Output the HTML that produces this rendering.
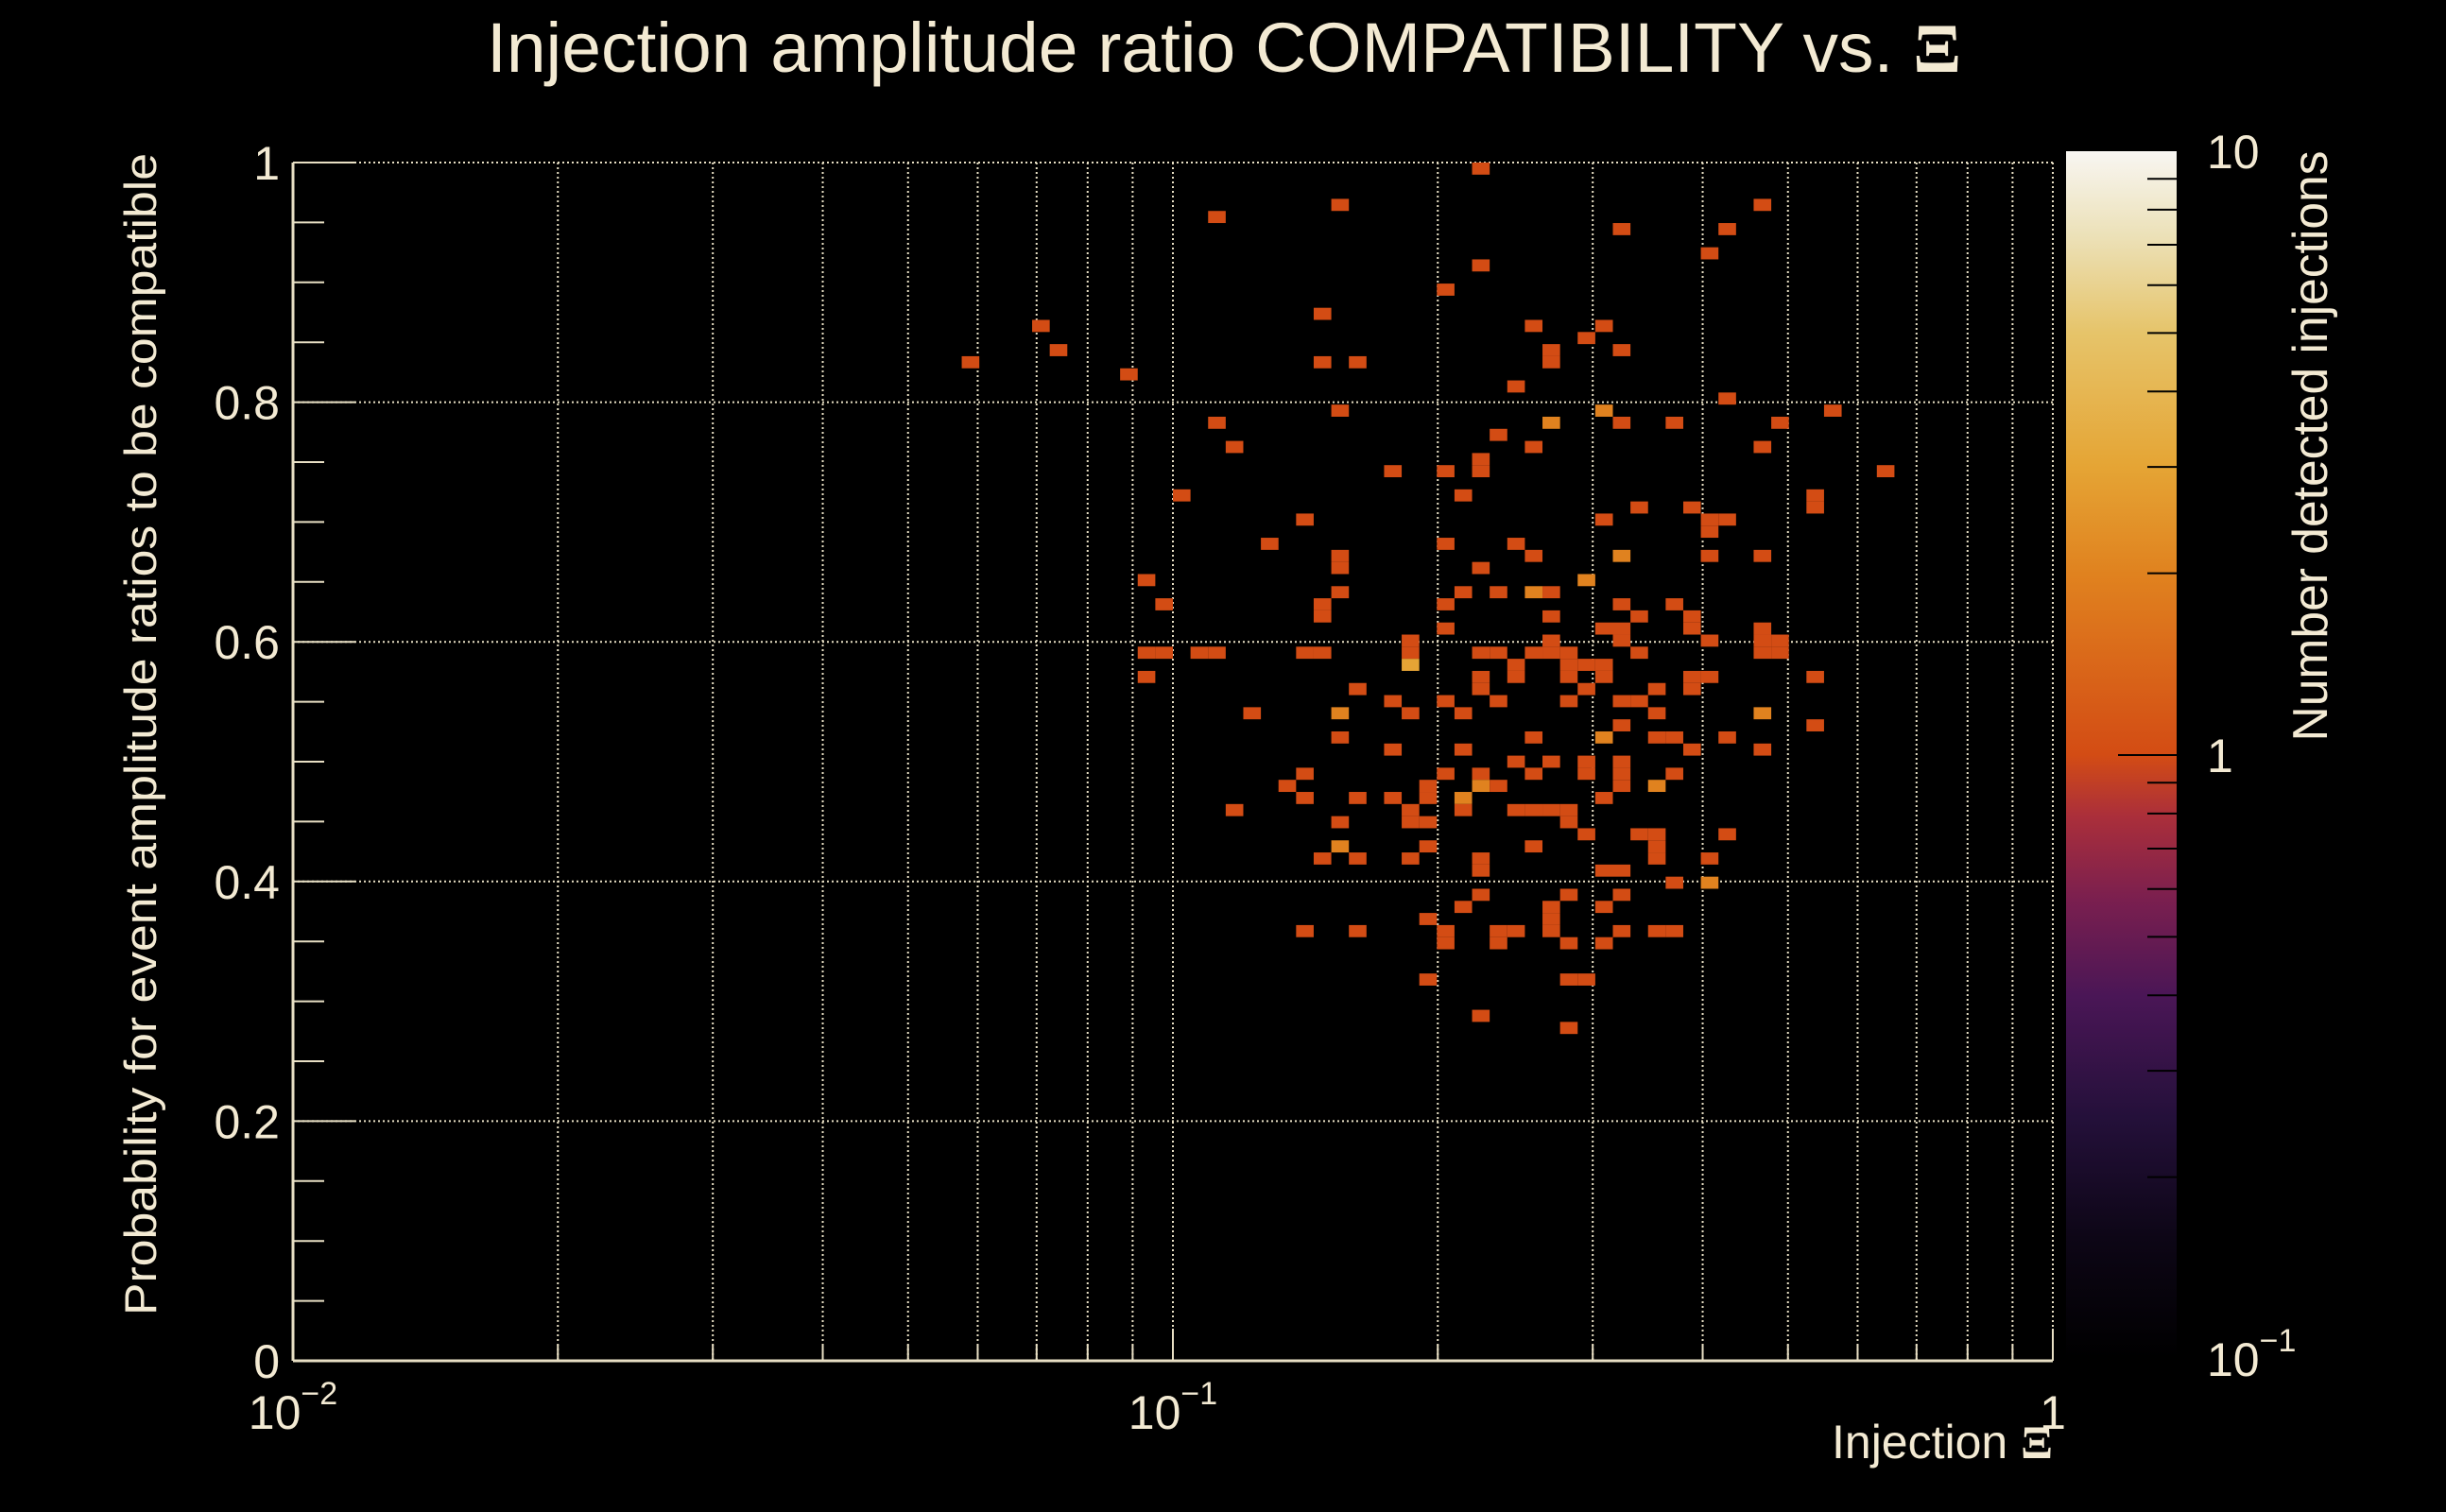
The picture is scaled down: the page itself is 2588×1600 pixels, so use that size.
<!DOCTYPE html>
<html><head><meta charset="utf-8"><style>
html,body{margin:0;padding:0;background:#000;}
svg{display:block;}
text{font-family:"Liberation Sans",sans-serif;fill:#f3ead3;}
</style></head><body>
<svg id="chart" width="2588" height="1600" viewBox="0 0 2588 1600" xmlns="http://www.w3.org/2000/svg">
<rect x="0" y="0" width="2588" height="1600" fill="#000"/>
<defs>
<linearGradient id="cmap" x1="0" y1="1" x2="0" y2="0">
<stop offset="0" stop-color="#000000"/>
<stop offset="0.1" stop-color="#0d0616"/>
<stop offset="0.2" stop-color="#24103a"/>
<stop offset="0.3" stop-color="#4a1656"/>
<stop offset="0.38" stop-color="#7a1f4f"/>
<stop offset="0.45" stop-color="#ab2f3a"/>
<stop offset="0.5" stop-color="#d34c14"/>
<stop offset="0.65" stop-color="#e0821f"/>
<stop offset="0.74" stop-color="#e5a535"/>
<stop offset="0.85" stop-color="#e6c46a"/>
<stop offset="0.93" stop-color="#ece1b8"/>
<stop offset="1" stop-color="#f8f6f2"/>
</linearGradient>
</defs>
<g id="grid"></g>
<g id="cells"></g>
<g id="axes"></g>
<text x="1295" y="76" font-size="74" text-anchor="middle" textLength="1560" lengthAdjust="spacingAndGlyphs">Injection amplitude ratio COMPATIBILITY vs.  <tspan font-family="Liberation Serif,serif" font-weight="bold">Ξ</tspan></text>
<text x="2172" y="1543" font-size="50" text-anchor="end">Injection <tspan font-family="Liberation Serif,serif" font-weight="bold">Ξ</tspan></text>
<text transform="translate(165,777) rotate(-90)" font-size="47" text-anchor="middle" textLength="1230" lengthAdjust="spacingAndGlyphs">Probability for event amplitude ratios to be compatible</text>
<rect x="2186" y="160" width="117" height="1278" fill="url(#cmap)"/>
<g id="cbaxis"></g>
<text transform="translate(2462,472) rotate(-90)" font-size="52" text-anchor="middle" textLength="625" lengthAdjust="spacingAndGlyphs">Number detected injections</text>
</svg>
<script>
const xVals = [
0.224,
0.155,0.468,
0.112,
0.324,0.427,
0.407,
0.224,
0.204,
0.148,
0.0708,0.257,0.309,
0.295,
0.0741,0.269,0.324,
0.269,0.0589,0.148,0.162,
0.0891,
0.245,
0.427,
0.155,0.309,0.562,
0.112,0.269,0.324,0.372,0.490,
0.234,
0.117,0.257,0.468,
0.224,
0.224,0.178,0.204,0.646,
0.102,0.214,0.537,
0.537,0.339,0.389,
0.141,0.309,0.407,0.427,
0.407,
0.129,0.204,0.245,
0.155,0.257,0.324,0.407,0.468,
0.155,0.224,
0.0933,0.295,
0.155,0.214,0.234,0.257,0.269,
0.0977,0.148,0.204,0.324,0.372,
0.148,0.269,0.339,0.389,
0.389,0.204,0.309,0.324,0.468,
0.324,0.468,0.186,0.269,0.407,0.490,
0.468,0.186,0.490,0.0933,0.0977,0.107,0.112,0.141,0.148,0.224,0.234,0.257,0.269,0.282,0.339,
0.186,0.245,0.282,0.295,0.309,
0.245,0.0933,0.224,0.282,0.309,0.389,0.407,0.537,
0.224,0.162,0.295,0.355,0.389,
0.178,0.204,0.234,0.282,0.324,0.339,
0.123,0.155,0.186,0.214,0.355,0.468,
0.324,0.537,
0.155,0.257,0.309,0.355,0.372,0.427,
0.178,0.214,0.389,0.468,
0.245,0.269,0.295,0.324,
0.295,0.324,0.141,0.204,0.224,0.257,0.372,
0.324,0.135,0.195,0.224,0.234,0.355,
0.195,0.141,0.162,0.178,0.214,0.309,
0.117,0.186,0.214,0.245,0.257,0.269,0.282,
0.186,0.155,0.195,0.282,
0.295,0.339,0.355,0.427,
0.355,0.155,0.195,0.257,
0.355,0.148,0.162,0.186,0.224,0.407,
0.224,0.309,0.324,
0.372,0.407,
0.224,0.282,0.324,
0.269,0.214,0.309,
0.269,0.195,
0.269,0.141,0.162,0.204,0.234,0.245,0.324,0.355,0.372,
0.204,0.234,0.282,0.309,
0.195,0.282,0.295,
0.224,
0.282
];
const yVals = [
0.995,
0.965,0.965,
0.955,
0.944,0.944,
0.924,
0.914,
0.894,
0.874,
0.864,0.864,0.864,
0.854,
0.843,0.843,0.843,
0.833,0.833,0.833,0.833,
0.823,
0.813,
0.803,
0.793,0.793,0.793,
0.783,0.783,0.783,0.783,0.783,
0.773,
0.763,0.763,0.763,
0.753,
0.742,0.742,0.742,0.742,
0.722,0.722,0.722,
0.712,0.712,0.712,
0.702,0.702,0.702,0.702,
0.692,
0.682,0.682,0.682,
0.672,0.672,0.672,0.672,0.672,
0.662,0.662,
0.652,0.652,
0.641,0.641,0.641,0.641,0.641,
0.631,0.631,0.631,0.631,0.631,
0.621,0.621,0.621,0.621,
0.611,0.611,0.611,0.611,0.611,
0.601,0.601,0.601,0.601,0.601,0.601,
0.591,0.591,0.591,0.591,0.591,0.591,0.591,0.591,0.591,0.591,0.591,0.591,0.591,0.591,0.591,
0.581,0.581,0.581,0.581,0.581,
0.571,0.571,0.571,0.571,0.571,0.571,0.571,0.571,
0.561,0.561,0.561,0.561,0.561,
0.551,0.551,0.551,0.551,0.551,0.551,
0.540,0.540,0.540,0.540,0.540,0.540,
0.530,0.530,
0.520,0.520,0.520,0.520,0.520,0.520,
0.510,0.510,0.510,0.510,
0.500,0.500,0.500,0.500,
0.490,0.490,0.490,0.490,0.490,0.490,0.490,
0.480,0.480,0.480,0.480,0.480,0.480,
0.470,0.470,0.470,0.470,0.470,0.470,
0.460,0.460,0.460,0.460,0.460,0.460,0.460,
0.449,0.449,0.449,0.449,
0.439,0.439,0.439,0.439,
0.429,0.429,0.429,0.429,
0.419,0.419,0.419,0.419,0.419,0.419,
0.409,0.409,0.409,
0.399,0.399,
0.389,0.389,0.389,
0.379,0.379,0.379,
0.369,0.369,
0.359,0.359,0.359,0.359,0.359,0.359,0.359,0.359,0.359,
0.348,0.348,0.348,0.348,
0.318,0.318,0.318,
0.288,
0.278
];
const counts = [
1,
1,1,
1,
1,1,
1,
1,
1,
1,
1,1,1,
1,
1,1,1,
1,1,1,1,
1,
1,
1,
1,2,1,
1,2,1,1,1,
1,
1,1,1,
1,
1,1,1,1,
1,1,1,
1,1,1,
1,1,1,1,
1,
1,1,1,
1,1,2,1,1,
1,1,
1,2,
1,1,1,2,1,
1,1,1,1,1,
1,1,1,1,
1,1,1,1,1,
1,1,1,1,1,1,
1,1,1,1,1,1,1,1,1,1,1,1,1,1,1,
3,1,1,1,1,
1,1,1,1,1,1,1,1,
1,1,1,1,1,
1,1,1,1,1,1,
1,2,1,1,1,2,
1,1,
1,1,2,1,1,1,
1,1,1,1,
1,1,1,1,
1,1,1,1,1,1,1,
1,1,1,2,1,2,
1,1,1,1,2,1,
1,1,1,1,1,1,1,
1,1,1,1,
1,1,1,1,
1,2,1,1,
1,1,1,1,1,1,
1,1,1,
1,2,
1,1,1,
1,1,1,
1,1,
1,1,1,1,1,1,1,1,1,
1,1,1,1,
1,1,1,
1,
1
];
const yTickVals = [0, 0.2, 0.4, 0.6, 0.8, 1];
const yTickLabels = ["0", "0.2", "0.4", "0.6", "0.8", "1"];
const xTickExps = [-2, -1, 0];
const cbTickVals = [0.1, 1, 10];

const NS = "http://www.w3.org/2000/svg";
const PL = 310, PR = 2172, PT = 172, PB = 1440;
const XMIN = -2, XMAX = 0, NXB = 100, NYB = 99;
const CBT = 160, CBB = 1438, CBX0 = 2186, CBX1 = 2303;
function xScale(v){ return PL + (Math.log10(v) - XMIN) / (XMAX - XMIN) * (PR - PL); }
function yScale(v){ return PB - v * (PB - PT); }
function cbScale(v){ return CBB - (Math.log10(v) + 1) / 2 * (CBB - CBT); }
function mk(tag, attrs, parent){ const e = document.createElementNS(NS, tag); for (const k in attrs) e.setAttribute(k, attrs[k]); parent.appendChild(e); return e; }
const stops = [[0,[0,0,0]],[0.1,[13,6,22]],[0.2,[36,16,58]],[0.3,[74,22,86]],[0.38,[122,31,79]],[0.45,[171,47,58]],[0.5,[211,76,20]],[0.65,[224,130,31]],[0.74,[229,165,53]],[0.85,[230,196,106]],[0.93,[236,225,184]],[1,[248,246,242]]];
function colorFor(n){
  const f = Math.max(0, Math.min(1, (Math.log10(n) + 1) / 2));
  for (let i = 1; i < stops.length; i++){
    if (f <= stops[i][0]){
      const a = stops[i-1], b = stops[i], t = (f - a[0]) / (b[0] - a[0]);
      const c = a[1].map((v, j) => Math.round(v + (b[1][j] - v) * t));
      return "rgb(" + c.join(",") + ")";
    }
  }
  return "rgb(248,246,242)";
}
const grid = document.getElementById("grid");
const axes = document.getElementById("axes");
const cells = document.getElementById("cells");
const gridCol = "#e8dfc4";
for (let e = XMIN; e < XMAX; e++){
  for (let m = 1; m <= 10; m++){
    const v = m * Math.pow(10, e);
    const x = xScale(v);
    if (x > PL + 1 && x < PR - 1){
      const g = mk("line", {x1:x, x2:x, y1:PT, y2:PB, stroke:gridCol, "stroke-width":2, "stroke-dasharray":"2,3"}, grid);
      
      
    }
    const t = mk("line", {x1:x, x2:x, y1:PB, y2:PB - (m === 1 || m === 10 ? 34 : 17), stroke:gridCol, "stroke-width":2}, axes);
    
    
  }
}
yTickVals.forEach((v, i) => {
  const y = yScale(v);
  if (v > 0 && v < 1){
    const g = mk("line", {x1:PL, x2:PR, y1:y, y2:y, stroke:gridCol, "stroke-width":2, "stroke-dasharray":"2,3"}, grid);
    
    
  }
  const t = mk("line", {x1:PL, x2:PL + 66, y1:y, y2:y, stroke:gridCol, "stroke-width":2}, axes);
  
  
  const lb = mk("text", {x:PL - 14, y:y + 18, "font-size":50, "text-anchor":"end"}, axes);
  lb.textContent = yTickLabels[i];
  
  
});
for (let k = 1; k < 20; k++){
  if (k % 4 === 0) continue;
  const y = yScale(k * 0.05);
  const t = mk("line", {x1:PL, x2:PL + 33, y1:y, y2:y, stroke:gridCol, "stroke-width":2}, axes);
  
  
}
const topLine = mk("line", {x1:PL, x2:PR, y1:PT, y2:PT, stroke:gridCol, "stroke-width":2, "stroke-dasharray":"2,3"}, grid);


const rightLine = mk("line", {x1:PR, x2:PR, y1:PT, y2:PB, stroke:gridCol, "stroke-width":2, "stroke-dasharray":"2,3"}, grid);


const xAxis = mk("line", {x1:PL, x2:PR, y1:PB, y2:PB, stroke:gridCol, "stroke-width":3}, axes);


const yAxis = mk("line", {x1:PL, x2:PL, y1:PT, y2:PB, stroke:gridCol, "stroke-width":3}, axes);


xTickExps.forEach(e => {
  const x = xScale(Math.pow(10, e));
  const lb = mk("text", {x:x, y:1512, "font-size":50, "text-anchor":"middle"}, axes);
  
  
  if (e === 0){ lb.textContent = "1"; }
  else {
    const a = document.createElementNS(NS, "tspan"); a.textContent = "10"; lb.appendChild(a);
    const b = document.createElementNS(NS, "tspan"); b.setAttribute("dy", "-26"); b.setAttribute("font-size", "34"); b.textContent = "\u2212" + Math.abs(e); lb.appendChild(b);
  }
});
const bw = (PR - PL) / NXB, bh = (PB - PT) / NYB;
for (let i = 0; i < xVals.length; i++){
  const bx = Math.floor((Math.log10(xVals[i]) - XMIN) / (XMAX - XMIN) * NXB);
  const by = Math.floor(yVals[i] * NYB);
  const r = mk("rect", {x:(PL + bx * bw).toFixed(2), y:(PB - (by + 1) * bh).toFixed(2), width:bw.toFixed(2), height:bh.toFixed(2), fill:colorFor(counts[i])}, cells);
  
  
}
const cbax = document.getElementById("cbaxis");
for (let e = -1; e < 1; e++){
  for (let m = 1; m < 10; m++){
    const v = m * Math.pow(10, e);
    const y = cbScale(v);
    const t = mk("line", {x1:CBX1, x2:CBX1 - (m === 1 ? 62 : 31), y1:y, y2:y, stroke:"#000", "stroke-width":2}, cbax);
    
    
  }
}
cbTickVals.forEach(v => {
  const y = cbScale(v);
  const lb = mk("text", {x:2335, y:y + 18, "font-size":50}, cbax);
  
  
  if (v === 0.1){
    const a = document.createElementNS(NS, "tspan"); a.textContent = "10"; lb.appendChild(a);
    const b = document.createElementNS(NS, "tspan"); b.setAttribute("dy", "-26"); b.setAttribute("font-size", "34"); b.textContent = "\u22121"; lb.appendChild(b);
  } else { lb.textContent = String(v); }
});
</script>
</body></html>
